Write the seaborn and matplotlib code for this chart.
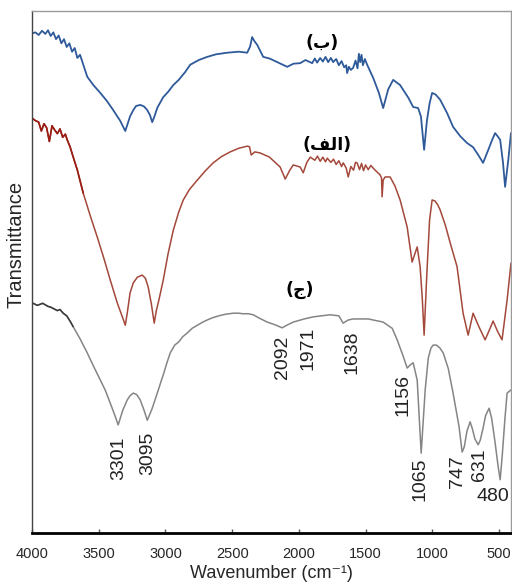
import numpy as np
import pandas as pd
import matplotlib
matplotlib.use("Agg")
import matplotlib.pyplot as plt
import seaborn as sns

# Spectrum (b) - blue, top
blue_wn = [4000, 3975, 3950, 3925, 3900, 3880, 3860, 3840, 3820, 3800, 3780, 3760, 3740,
           3720, 3700, 3680, 3660, 3640, 3586, 3540, 3488, 3440, 3391, 3340, 3301, 3265,
           3241, 3220, 3188, 3160, 3136, 3115, 3099, 3085, 3060, 3016, 2980, 2941, 2900,
           2852, 2814, 2750, 2687, 2620, 2537, 2450, 2387, 2365, 2350, 2335, 2312, 2267,
           2220, 2162, 2087, 2040, 1990, 1950, 1900, 1880, 1863, 1840, 1820, 1800, 1780,
           1760, 1743, 1720, 1700, 1680, 1660, 1645, 1638, 1625, 1610, 1593, 1575, 1560,
           1550, 1540, 1530, 1520, 1505, 1488, 1443, 1400, 1368, 1330, 1293, 1241, 1180,
           1143, 1106, 1085, 1061, 1040, 1020, 1001, 975, 941, 890, 844, 790, 739, 694,
           660, 619, 580, 551, 529, 510, 491, 470, 454, 430, 410]
blue_t = [95.7, 95.9, 95.4, 96.2, 95.6, 96.3, 95.2, 95.9, 94.6, 95.3, 93.8, 94.6, 93.1,
          93.8, 92.2, 92.9, 91.0, 91.6, 87.4, 85.8, 84.3, 82.8, 81.0, 79.0, 77.0, 79.8,
          81.0, 81.8, 82.0, 81.7, 81.0, 80.0, 78.7, 79.6, 81.5, 83.5, 84.5, 85.8, 86.8,
          88.3, 89.7, 90.6, 91.2, 91.7, 92.0, 92.2, 92.0, 93.2, 95.0, 94.3, 93.5, 91.2,
          90.9, 90.2, 89.3, 89.9, 90.0, 90.6, 90.0, 90.9, 90.1, 91.0, 90.3, 91.2, 90.2,
          91.0, 90.2, 90.8, 89.6, 90.4, 89.2, 89.6, 88.1, 89.3, 88.7, 89.1, 90.5, 89.0,
          91.8, 90.2, 91.6, 89.6, 90.8, 89.7, 87.2, 84.3, 81.4, 85.0, 86.8, 85.8, 83.4,
          81.6, 81.4, 79.8, 73.4, 79.0, 82.3, 84.3, 84.0, 83.0, 80.5, 77.8, 76.0, 74.7,
          73.9, 72.6, 70.9, 73.4, 75.3, 76.6, 76.0, 75.3, 71.0, 66.3, 71.5, 76.6]

# Spectrum (alef) - red, middle
red_wn = [4000, 3975, 3950, 3930, 3910, 3890, 3870, 3850, 3830, 3810, 3790, 3770, 3750,
          3736, 3715, 3691, 3660, 3616, 3560, 3511, 3460, 3414, 3360, 3320, 3301, 3285,
          3265, 3241, 3210, 3174, 3150, 3129, 3105, 3084, 3068, 3050, 3016, 2980, 2941,
          2900, 2866, 2820, 2761, 2700, 2642, 2580, 2515, 2450, 2387, 2370, 2357, 2330,
          2290, 2220, 2140, 2102, 2070, 2042, 1990, 1967, 1940, 1914, 1880, 1860, 1840,
          1820, 1800, 1787, 1760, 1740, 1720, 1700, 1680, 1667, 1645, 1630, 1610, 1590,
          1575, 1563, 1545, 1530, 1515, 1500, 1480, 1460, 1443, 1420, 1391, 1380, 1376,
          1368, 1353, 1316, 1280, 1241, 1188, 1151, 1113, 1091, 1075, 1061, 1040, 1020,
          1001, 980, 960, 941, 900, 866, 814, 769, 731, 694, 650, 604, 570, 544, 510,
          477, 439, 410]
red_t = [79.5, 79.0, 78.7, 77.0, 78.4, 77.6, 75.0, 78.0, 77.2, 76.5, 77.4, 75.8, 76.4,
         75.3, 74.0, 72.0, 69.5, 65.1, 60.5, 56.7, 52.5, 48.5, 44.0, 41.2, 39.8, 42.3,
         46.0, 47.9, 49.0, 49.4, 48.8, 47.1, 43.8, 40.2, 42.6, 44.5, 48.5, 53.5, 58.0,
         61.5, 63.8, 65.8, 67.6, 69.4, 70.9, 72.1, 73.0, 73.7, 74.1, 74.0, 72.4, 73.0,
         72.8, 72.0, 70.1, 67.8, 69.4, 70.5, 70.1, 69.0, 71.0, 72.0, 71.4, 72.2, 71.2,
         72.0, 71.1, 71.8, 71.0, 71.6, 70.6, 71.3, 70.2, 70.9, 69.9, 68.2, 70.2, 69.5,
         71.0, 70.9, 69.6, 70.8, 69.4, 70.5, 69.6, 70.4, 69.9, 69.3, 68.6, 68.0, 64.4,
         67.6, 68.2, 68.2, 66.5, 63.8, 58.6, 51.9, 54.8, 51.0, 45.0, 37.9, 50.0, 60.0,
         63.8, 63.6, 62.9, 61.9, 58.8, 55.6, 51.0, 42.1, 37.9, 42.1, 39.5, 37.0, 39.0,
         40.6, 38.6, 37.0, 44.6, 51.7]

# Spectrum (jim) - gray, bottom
gray_wn = [4000, 3960, 3920, 3880, 3863, 3840, 3810, 3790, 3766, 3740, 3715, 3691, 3640,
           3586, 3540, 3488, 3450, 3414, 3380, 3354, 3320, 3286, 3265, 3241, 3215, 3189,
           3160, 3136, 3100, 3061, 3010, 2990, 2964, 2930, 2900, 2870, 2837, 2800, 2760,
           2720, 2687, 2650, 2600, 2550, 2492, 2450, 2420, 2380, 2342, 2300, 2237, 2180,
           2125, 2090, 2042, 1960, 1892, 1766, 1700, 1668, 1630, 1593, 1480, 1368, 1300,
           1263, 1220, 1188, 1160, 1143, 1113, 1083, 1053, 1030, 1010, 993, 970, 945,
           918, 880, 844, 800, 776, 760, 740, 716, 700, 680, 656, 640, 620, 600, 574,
           555, 530, 505, 491, 475, 455, 439, 410]
gray_t = [44.1, 43.6, 44.0, 43.4, 43.3, 43.0, 42.6, 42.8, 42.1, 41.6, 40.6, 39.5, 37.2,
          34.5, 32.0, 29.3, 27.3, 24.9, 22.6, 20.7, 23.5, 25.5, 26.3, 26.8, 26.5, 25.5,
          23.5, 21.6, 23.8, 26.8, 30.8, 32.5, 34.5, 36.0, 36.6, 37.6, 38.3, 39.2, 39.8,
          40.4, 40.8, 41.2, 41.6, 41.9, 42.1, 42.1, 42.0, 42.0, 41.8, 41.2, 40.4, 39.9,
          39.3, 39.8, 40.4, 41.0, 41.4, 41.8, 41.6, 40.2, 40.8, 41.0, 41.0, 40.4, 39.2,
          37.0, 34.0, 31.6, 32.3, 32.6, 29.3, 15.3, 27.4, 33.5, 35.4, 36.0, 36.0, 35.5,
          34.5, 31.5, 26.8, 20.5, 15.5, 16.5, 19.5, 21.3, 20.0, 18.0, 16.9, 17.8, 20.0,
          22.5, 23.9, 22.0, 17.5, 12.5, 10.2, 15.0, 22.0, 26.8, 27.4]

peak_labels = ["3301", "3095", "2092", "1971", "1638", "1156", "1065", "747", "631"]
curve_names = ["(\ufe8f)", "(\ufed2\ufedf\ufe8d)", "(\ufe9d)"]

sns.set_style("white")
plt.rcParams["font.family"] = ["Liberation Sans", "DejaVu Sans"]

fig = plt.figure(figsize=(5.12, 5.83), dpi=100)
ax = fig.add_axes([0.0625, 0.0858, 0.9355, 0.8954])

df_b = pd.DataFrame({"wn": blue_wn, "t": blue_t})
df_a = pd.DataFrame({"wn": red_wn, "t": red_t})
df_c = pd.DataFrame({"wn": gray_wn, "t": gray_t})

sns.lineplot(data=df_b, x="wn", y="t", color="#2f5a9a", lw=1.3, ax=ax)
sns.lineplot(data=df_a, x="wn", y="t", color="#a3483a", lw=1.1, ax=ax)
sns.lineplot(data=df_a[df_a.wn > 3600], x="wn", y="t", color="#9a1c12", lw=1.2, ax=ax)
sns.lineplot(data=df_c, x="wn", y="t", color="#858585", lw=1.1, ax=ax)
sns.lineplot(data=df_c[df_c.wn > 3650], x="wn", y="t", color="#3a3a3a", lw=1.1, ax=ax)

# peak labels on the bottom spectrum
label_pos = [(3353, 14.4), (3136, 15.3), (2124, 33.7), (1930, 35.4), (1601, 34.7),
             (1219, 26.4), (1091, 10.2), (814, 11.7), (649, 13.0)]
for lab, (xx, yy) in zip(peak_labels, label_pos):
    ax.text(xx, yy, lab, rotation=90, ha="center", va="center", fontsize=14, color="#222222")
ax.text(544, 6.9, "480", ha="center", va="center", fontsize=14, color="#222222")

# curve names
name_pos = [(1826, 93.9), (1788, 74.3), (1990, 46.6)]
for nm, (xx, yy) in zip(curve_names, name_pos):
    ax.text(xx, yy, nm, ha="center", va="center", fontsize=12.5, fontweight="bold",
            family=["DejaVu Sans"], color="black")

ax.set_xlim(4000, 410)
ax.set_ylim(0, 100)
ax.set_xticks([4000, 3500, 3000, 2500, 2000, 1500, 1000, 500])
ax.set_yticks([])
ax.tick_params(axis="x", direction="in", length=3, width=1, color="#555555",
               labelsize=10.5, pad=10, bottom=True)
ax.set_xlabel("Wavenumber (cm\u207b\u00b9)", fontsize=13, labelpad=3)
ax.set_ylabel("Transmittance", fontsize=14.5)
ax.yaxis.set_label_coords(-0.014, 0.552)

for s in ["top", "right"]:
    ax.spines[s].set_color("#9a9a9a")
    ax.spines[s].set_linewidth(1.0)
ax.spines["left"].set_color("#444444")
ax.spines["left"].set_linewidth(1.0)
ax.spines["bottom"].set_color("black")
ax.spines["bottom"].set_linewidth(2.0)

fig.savefig("out.png", dpi=100)
